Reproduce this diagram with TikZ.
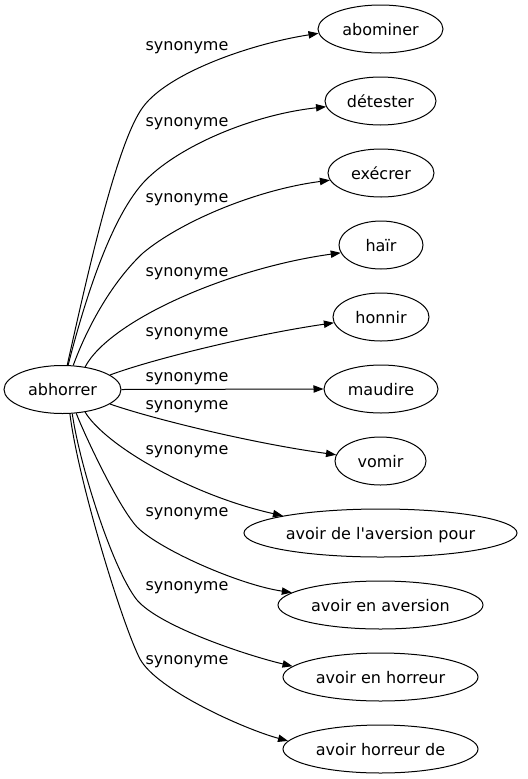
\documentclass[tikz,border=0pt]{standalone}
\usepackage{fontspec}
\setmainfont{DejaVu Sans}
\usetikzlibrary{shapes.geometric,arrows.meta}
\tikzset{
  ell/.style={draw, ellipse, inner sep=0pt, minimum height=36pt, line width=0.75pt,
    font=\fontsize{12pt}{14pt}\selectfont, text height=9pt, text depth=0pt},
  lbl/.style={inner sep=0pt, font=\fontsize{12pt}{14pt}\selectfont},
  edge/.style={line width=0.75pt, -{Triangle[length=7.5pt,width=5.5pt]}}
}
\begin{document}
\begin{tikzpicture}[x=0.75pt,y=-0.75pt]
\useasboundingbox (0,0) rectangle (528,779);
\node[ell, minimum width=117*0.75pt] (a) at (62.5,389.5) {abhorrer};
\node[ell, minimum width=125*0.75pt] (n1) at (380.5,29) {abominer};
\node[ell, minimum width=111*0.75pt] (n2) at (380.5,101) {détester};
\node[ell, minimum width=106*0.75pt] (n3) at (381,173) {exécrer};
\node[ell, minimum width=84*0.75pt] (n4) at (381,245) {haïr};
\node[ell, minimum width=96*0.75pt] (n5) at (381,317) {honnir};
\node[ell, minimum width=114*0.75pt] (n6) at (381,389) {maudire};
\node[ell, minimum width=91*0.75pt] (n7) at (380.5,461) {vomir};
\node[ell, minimum width=273*0.75pt] (n8) at (380.5,533) {avoir de l\textquotesingle aversion pour};
\node[ell, minimum width=205*0.75pt] (n9) at (380.5,605) {avoir en aversion};
\node[ell, minimum width=195*0.75pt] (n10) at (380.5,677) {avoir en horreur};
\node[ell, minimum width=195*0.75pt] (n11) at (380.5,749) {avoir horreur de};

\draw[edge] (a.79) .. controls (85,286) and (116,143) .. (143,107) .. controls (168,73) and (250,44) .. (n1.184);
\draw[edge] (a.77) .. controls (82,311) and (108,222) .. (143,183) .. controls (175,148) and (250,115) .. (n2.186);
\draw[edge] (a.66) .. controls (88,325) and (113,281) .. (143,253) .. controls (180,222) and (255,190) .. (n3.188);
\draw[edge] (a.45) .. controls (110,320) and (230,268) .. (n4.191);
\draw[edge] (a.17) .. controls (150,360) and (250,335) .. (n5.187);
\draw[edge] (a.east) -- (n6.west);
\draw[edge] (a.-17) .. controls (150,418) and (250,443) .. (n7.172);
\draw[edge] (a.-45) .. controls (105,445) and (190,495) .. (n8.170);
\draw[edge] (a.-60) .. controls (83,431) and (117,505) .. (137,527) .. controls (160,550) and (240,585) .. (n9.172);
\draw[edge] (a.-68) .. controls (80,467) and (113,570) .. (137,600) .. controls (160,627) and (249,656) .. (n10.173);
\draw[edge] (a.-73) .. controls (78,480) and (122,624) .. (140,659) .. controls (157,690) and (244,729) .. (n11.175);

\node[lbl] (l1) at (187,48) {synonyme};
\node[lbl] (l2) at (187,124) {synonyme};
\node[lbl] (l3) at (187,200) {synonyme};
\node[lbl] (l4) at (187,274) {synonyme};
\node[lbl] (l5) at (187,334) {synonyme};
\node[lbl] (l6) at (187,379) {synonyme};
\node[lbl] (l7) at (187,407) {synonyme};
\node[lbl] (l8) at (187,452) {synonyme};
\node[lbl] (l9) at (187,514) {synonyme};
\node[lbl] (l10) at (187,588) {synonyme};
\node[lbl] (l11) at (187,662) {synonyme};
\end{tikzpicture}
\end{document}
